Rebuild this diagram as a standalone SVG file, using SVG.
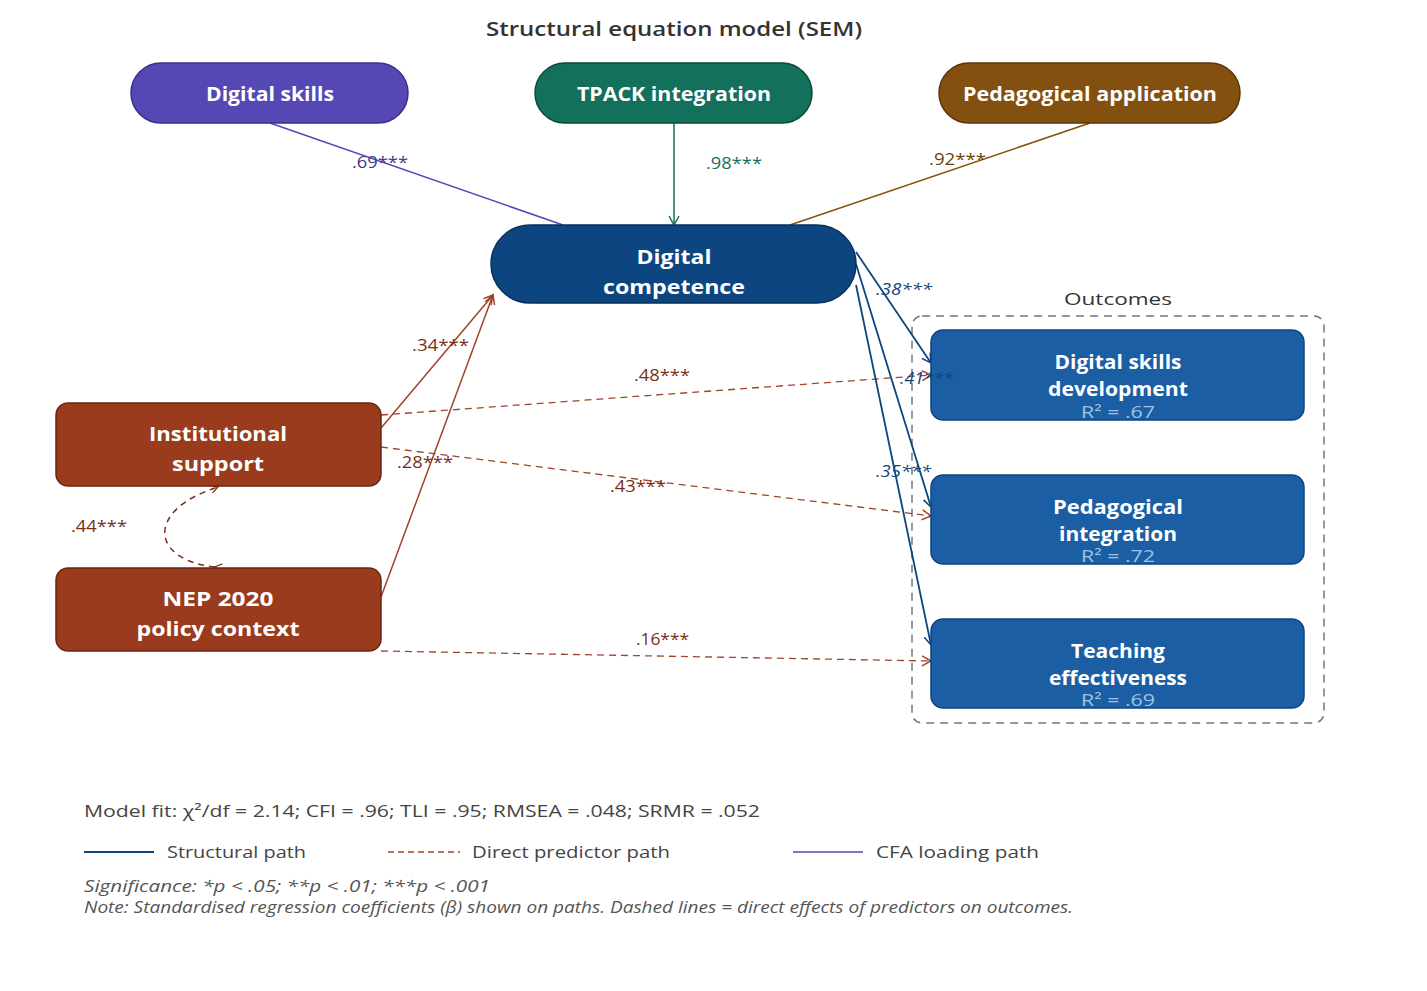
<svg xmlns="http://www.w3.org/2000/svg" width="1427" height="991" viewBox="0 0 1427 991">
<style>
text{font-family:"Open Sans","Noto Sans","Liberation Sans",sans-serif}
.title{font-size:20px;fill:#333;text-anchor:middle;font-weight:600}
.nt{font-size:19px;font-weight:700;fill:#fff;text-anchor:middle}
.r2{font-size:17px;fill:#9DC3E6;text-anchor:middle}
.lbl{font-size:16px}
.leg{font-size:17px;fill:#444}
.it{font-style:italic;fill:#555}
.cfa{stroke:#5548B5;stroke-width:1.5;fill:none}
.pred{stroke:#A0432A;stroke-width:1.5;fill:none}
.dash{stroke:#A0432A;stroke-width:1.3;fill:none;stroke-dasharray:7 5}
.struct{stroke:#0D4580;stroke-width:1.8;fill:none}
</style>
<defs>
<marker id="aB" markerWidth="12" markerHeight="12" refX="10" refY="6" orient="auto" markerUnits="userSpaceOnUse"><path d="M1,1 L10,6 L1,11" fill="none" stroke="#0D4580" stroke-width="1.5"/></marker>
<marker id="aR" markerWidth="12" markerHeight="12" refX="10" refY="6" orient="auto" markerUnits="userSpaceOnUse"><path d="M1,1 L10,6 L1,11" fill="none" stroke="#A0432A" stroke-width="1.5"/></marker>
<marker id="aRs" markerWidth="10" markerHeight="10" refX="8" refY="5" orient="auto" markerUnits="userSpaceOnUse"><path d="M1,1 L8,5 L1,9" fill="none" stroke="#7A2E16" stroke-width="1.3"/></marker>
<marker id="aG" markerWidth="12" markerHeight="12" refX="10" refY="6" orient="auto" markerUnits="userSpaceOnUse"><path d="M1,1 L10,6 L1,11" fill="none" stroke="#13705A" stroke-width="1.5"/></marker>
</defs>
<rect width="1427" height="991" fill="#fff"/>
<text class="title" x="674" y="36" textLength="376" lengthAdjust="spacingAndGlyphs">Structural equation model (SEM)</text>

<g id="outcomes-group">
<rect x="912" y="316" width="412" height="407" rx="10" fill="none" stroke="#777" stroke-width="1.5" stroke-dasharray="8 6"/>
<text x="1118" y="305" font-size="17" fill="#333" text-anchor="middle" textLength="108" lengthAdjust="spacingAndGlyphs">Outcomes</text>
</g>

<g id="connectors">
<line class="cfa" x1="270" y1="123" x2="563" y2="225"/>
<line x1="674" y1="123" x2="674" y2="225" stroke="#13705A" stroke-width="1.5" marker-end="url(#aG)"/>
<line x1="1090" y1="123" x2="790" y2="225" stroke="#84500F" stroke-width="1.5"/>
<line class="pred" x1="381" y1="428" x2="493" y2="295" marker-end="url(#aR)"/>
<line class="pred" x1="381" y1="597" x2="493" y2="295" marker-end="url(#aR)"/>
<path d="M215,567 C150,560 145,510 218,487" fill="none" stroke="#7A2E16" stroke-width="1.5" stroke-dasharray="6 5" marker-start="url(#aRs)" marker-end="url(#aRs)"/>
<line class="dash" x1="381" y1="415" x2="931" y2="375" marker-end="url(#aR)"/>
<line class="dash" x1="381" y1="447" x2="931" y2="516" marker-end="url(#aR)"/>
<line class="dash" x1="381" y1="651" x2="931" y2="661" marker-end="url(#aR)"/>
<line class="struct" x1="856" y1="252" x2="931" y2="363" marker-end="url(#aB)"/>
<line class="struct" x1="856" y1="264" x2="931" y2="507" marker-end="url(#aB)"/>
<line class="struct" x1="856" y1="285" x2="931" y2="645" marker-end="url(#aB)"/>
</g>

<g id="digital-skills">
<rect x="131" y="63" width="277" height="60" rx="30" fill="#5548B5" stroke="#3A2F8A" stroke-width="1.5"/>
<text class="nt" x="270" y="101" textLength="128" lengthAdjust="spacingAndGlyphs">Digital skills</text>
</g>
<g id="tpack">
<rect x="535" y="63" width="277" height="60" rx="30" fill="#13705A" stroke="#0B4A3A" stroke-width="1.5"/>
<text class="nt" x="674" y="101" textLength="194" lengthAdjust="spacingAndGlyphs">TPACK integration</text>
</g>
<g id="pedagogical-application">
<rect x="939" y="63" width="301" height="60" rx="30" fill="#84500F" stroke="#5A3608" stroke-width="1.5"/>
<text class="nt" x="1090" y="101" textLength="254" lengthAdjust="spacingAndGlyphs">Pedagogical application</text>
</g>
<g id="digital-competence">
<rect x="491" y="225" width="365" height="78" rx="39" fill="#0D4580" stroke="#08305C" stroke-width="1.5"/>
<text class="nt" x="674" y="264" font-size="20" textLength="75" lengthAdjust="spacingAndGlyphs">Digital</text>
<text class="nt" x="674" y="294" font-size="20" textLength="142" lengthAdjust="spacingAndGlyphs">competence</text>
</g>
<g id="institutional-support">
<rect x="56" y="403" width="325" height="83" rx="12" fill="#993B1C" stroke="#6B2610" stroke-width="1.5"/>
<text class="nt" x="218" y="441" textLength="138" lengthAdjust="spacingAndGlyphs">Institutional</text>
<text class="nt" x="218" y="471" textLength="92" lengthAdjust="spacingAndGlyphs">support</text>
</g>
<g id="nep-2020">
<rect x="56" y="568" width="325" height="83" rx="12" fill="#993B1C" stroke="#6B2610" stroke-width="1.5"/>
<text class="nt" x="218" y="606" textLength="111" lengthAdjust="spacingAndGlyphs">NEP 2020</text>
<text class="nt" x="218" y="636" textLength="163" lengthAdjust="spacingAndGlyphs">policy context</text>
</g>
<g id="digital-skills-development">
<rect x="931" y="330" width="373" height="90" rx="12" fill="#1B5EA4" stroke="#0D4580" stroke-width="1.5"/>
<text class="nt" x="1118" y="369" textLength="127" lengthAdjust="spacingAndGlyphs">Digital skills</text>
<text class="nt" x="1118" y="396" textLength="140" lengthAdjust="spacingAndGlyphs">development</text>
<text class="r2" x="1118" y="418" textLength="74" lengthAdjust="spacingAndGlyphs">R² = .67</text>
</g>
<g id="pedagogical-integration">
<rect x="931" y="475" width="373" height="89" rx="12" fill="#1B5EA4" stroke="#0D4580" stroke-width="1.5"/>
<text class="nt" x="1118" y="514" textLength="130" lengthAdjust="spacingAndGlyphs">Pedagogical</text>
<text class="nt" x="1118" y="541" textLength="118" lengthAdjust="spacingAndGlyphs">integration</text>
<text class="r2" x="1118" y="562" textLength="74" lengthAdjust="spacingAndGlyphs">R² = .72</text>
</g>
<g id="teaching-effectiveness">
<rect x="931" y="619" width="373" height="89" rx="12" fill="#1B5EA4" stroke="#0D4580" stroke-width="1.5"/>
<text class="nt" x="1118" y="658" textLength="94" lengthAdjust="spacingAndGlyphs">Teaching</text>
<text class="nt" x="1118" y="685" textLength="138" lengthAdjust="spacingAndGlyphs">effectiveness</text>
<text class="r2" x="1118" y="706" textLength="74" lengthAdjust="spacingAndGlyphs">R² = .69</text>
</g>

<g id="path-labels">
<text class="lbl" x="352" y="168" fill="#3C3590" textLength="56" lengthAdjust="spacingAndGlyphs">.69***</text>
<text class="lbl" x="706" y="169" fill="#13705A" textLength="56" lengthAdjust="spacingAndGlyphs">.98***</text>
<text class="lbl" x="929" y="165" fill="#6B3F0A" textLength="57" lengthAdjust="spacingAndGlyphs">.92***</text>
<text class="lbl" x="412" y="351" fill="#7A2E16" textLength="57" lengthAdjust="spacingAndGlyphs">.34***</text>
<text class="lbl" x="397" y="468" fill="#7A2E16" textLength="56" lengthAdjust="spacingAndGlyphs">.28***</text>
<text class="lbl" x="71" y="532" fill="#7A2E16" textLength="56" lengthAdjust="spacingAndGlyphs">.44***</text>
<text class="lbl" x="634" y="381" fill="#7A2E16" textLength="56" lengthAdjust="spacingAndGlyphs">.48***</text>
<text class="lbl" x="610" y="492" fill="#7A2E16" textLength="56" lengthAdjust="spacingAndGlyphs">.43***</text>
<text class="lbl" x="636" y="645" fill="#7A2E16" textLength="53" lengthAdjust="spacingAndGlyphs">.16***</text>
<text class="lbl" x="876" y="295" fill="#0D4580" font-style="italic" textLength="56" lengthAdjust="spacingAndGlyphs">.38***</text>
<text class="lbl" x="900" y="384" fill="#0D4580" font-style="italic" textLength="53" lengthAdjust="spacingAndGlyphs">.41***</text>
<text class="lbl" x="876" y="477" fill="#0D4580" font-style="italic" textLength="55" lengthAdjust="spacingAndGlyphs">.35***</text>
</g>

<g id="legend">
<text class="leg" x="84" y="817" textLength="676" lengthAdjust="spacingAndGlyphs">Model fit: χ²/df = 2.14; CFI = .96; TLI = .95; RMSEA = .048; SRMR = .052</text>
<line x1="84" y1="852" x2="154" y2="852" stroke="#0D4580" stroke-width="1.8"/>
<text class="leg" x="167" y="858" textLength="139" lengthAdjust="spacingAndGlyphs">Structural path</text>
<line x1="388" y1="852" x2="460" y2="852" stroke="#A0432A" stroke-width="1.3" stroke-dasharray="6 4"/>
<text class="leg" x="472" y="858" textLength="198" lengthAdjust="spacingAndGlyphs">Direct predictor path</text>
<line x1="793" y1="852" x2="863" y2="852" stroke="#5548B5" stroke-width="1.5"/>
<text class="leg" x="876" y="858" textLength="163" lengthAdjust="spacingAndGlyphs">CFA loading path</text>
<text class="leg it" x="84" y="892" font-size="16" textLength="406" lengthAdjust="spacingAndGlyphs">Significance: *p &lt; .05; **p &lt; .01; ***p &lt; .001</text>
<text class="leg it" x="84" y="913" font-size="15" textLength="989" lengthAdjust="spacingAndGlyphs">Note: Standardised regression coefficients (β) shown on paths. Dashed lines = direct effects of predictors on outcomes.</text>
</g>
</svg>
